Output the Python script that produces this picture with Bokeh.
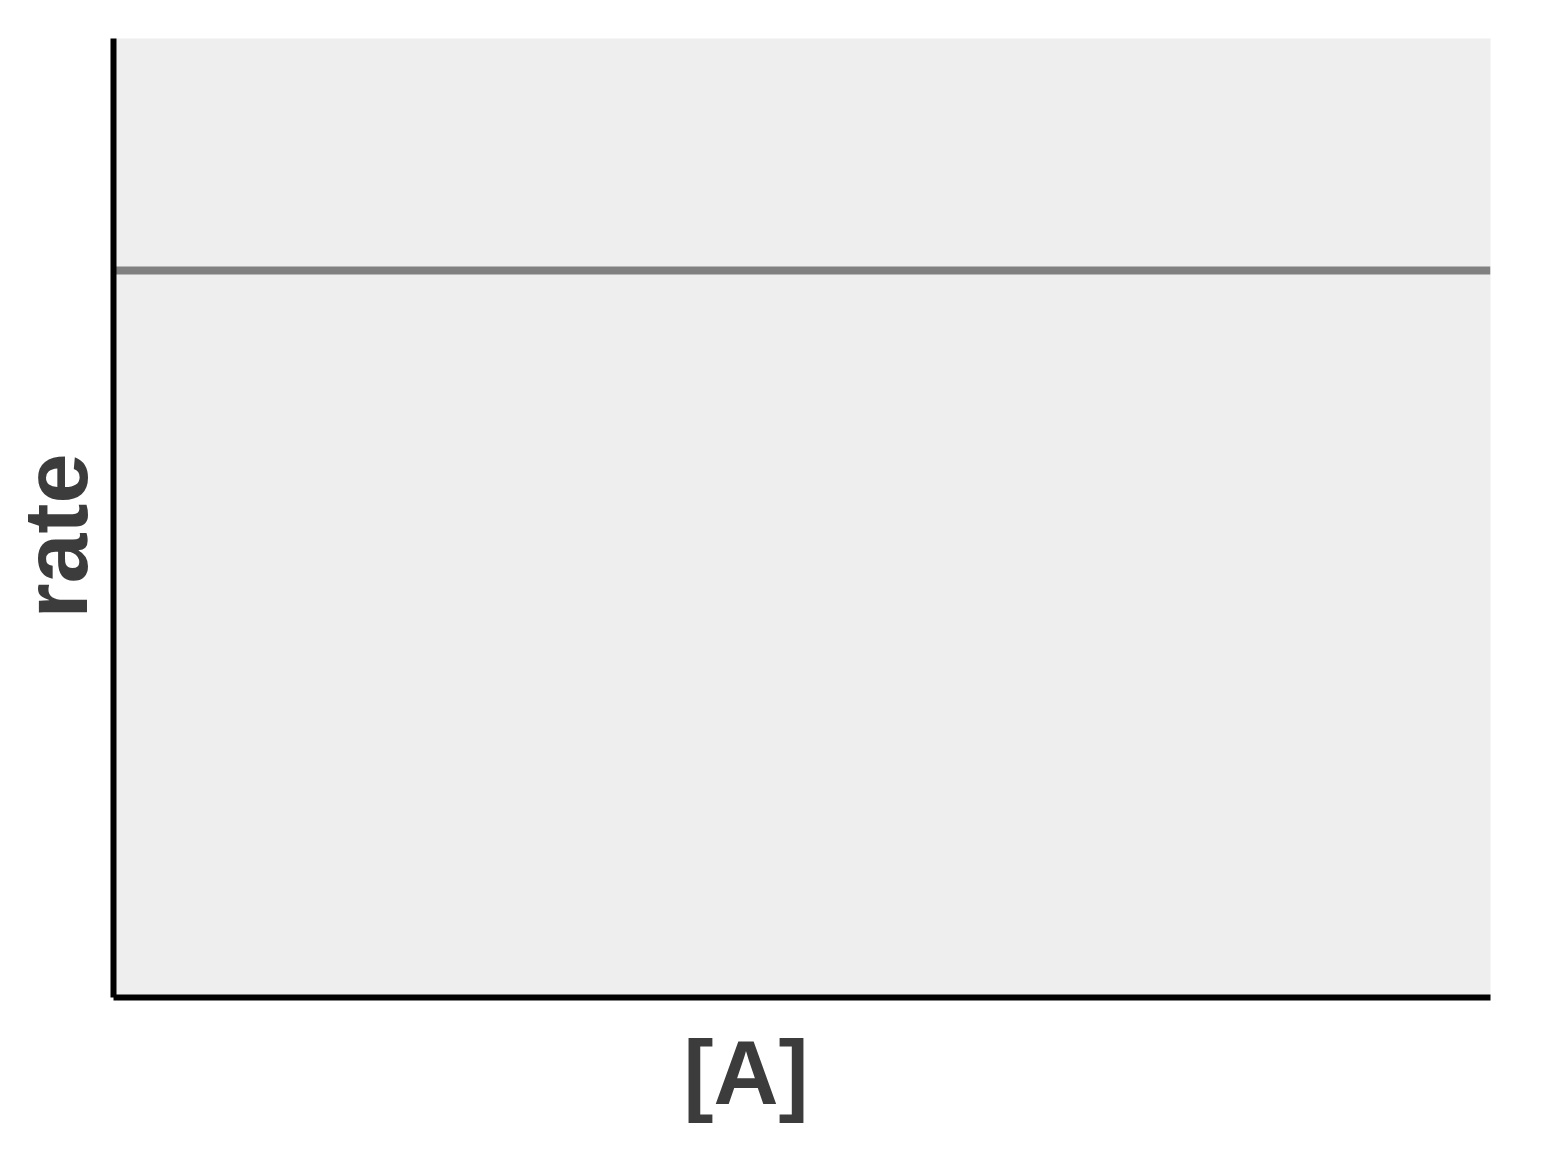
from bokeh.plotting import figure
from bokeh.models import Range1d, Title, FixedTicker
from bokeh.embed import file_html
from bokeh.resources import INLINE

# data: zero-order reaction, rate independent of [A]
conc = [0.0, 1.0]
rate = [0.758, 0.758]
x_label = "[A]"
y_label = "rate"

p = figure(width=1530, height=1148, output_backend="svg", toolbar_location=None,
           x_range=Range1d(0, 1), y_range=Range1d(0, 1),
           frame_width=1377, frame_height=959,
           min_border_left=0, min_border_top=38, min_border_right=48, min_border_bottom=0)
p.background_fill_color = "#eeeeee"
p.border_fill_color = "white"
p.outline_line_color = None
p.grid.grid_line_color = None

p.line(conc, rate, line_color="#808080", line_width=8)

for ax in (p.xaxis, p.yaxis):
    ax.ticker = FixedTicker(ticks=[])
    ax.axis_line_width = 6
    ax.axis_line_color = "black"
    ax.major_tick_line_color = None
    ax.minor_tick_line_color = None
    ax.major_tick_in = 0
    ax.major_tick_out = 0

lbl_font = "Liberation Sans"
p.add_layout(Title(text=x_label, align="left", offset=570, standoff=46,
                   text_font=lbl_font, text_font_style="bold",
                   text_font_size="90px", text_color="#3c3c3c"), "below")
p.add_layout(Title(text=y_label, align="left", offset=379, standoff=11,
                   vertical_align="top",
                   text_font=lbl_font, text_font_style="bold",
                   text_font_size="90px", text_color="#3c3c3c"), "left")

open("out.html", "w").write(file_html(p, INLINE))
